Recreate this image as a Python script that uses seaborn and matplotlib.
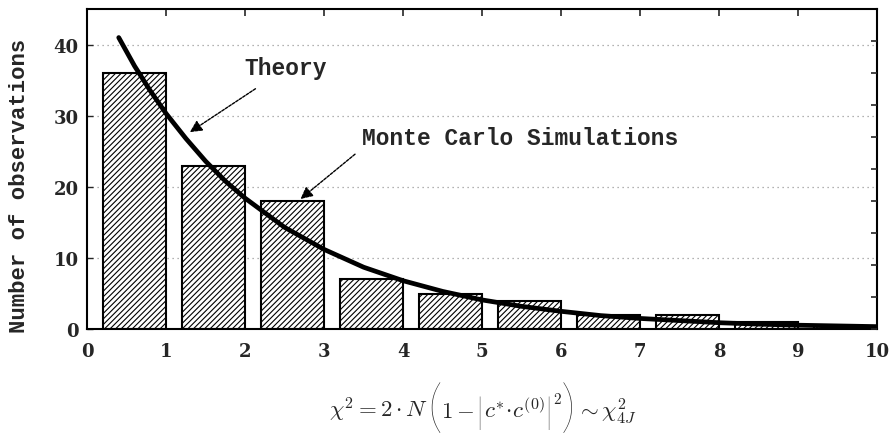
import numpy as np
import pandas as pd
import matplotlib
matplotlib.use('Agg')
import matplotlib.pyplot as plt
import seaborn as sns

# Monte Carlo histogram: bins [i, i+1), bar drawn over [i+0.2, i+1.0]
bin_start = [0, 1, 2, 3, 4, 5, 6, 7, 8, 9]
mc_counts = [36, 23, 18, 7, 5, 4, 2, 2, 1, 0.5]

# theory curve
theory_x = [0.4, 0.6, 0.8, 1.0, 1.25, 1.5, 1.75, 2.0, 2.5, 3.0, 3.5, 4.0,
            4.5, 5.0, 5.5, 6.0, 6.5, 7.0, 7.5, 8.0, 8.5, 9.0, 9.5, 10.0]
theory_y = [41, 37, 33.5, 30.3, 26.8, 23.6, 20.8, 18.4, 14.3, 11.2, 8.7, 6.8,
            5.3, 4.1, 3.2, 2.5, 1.9, 1.5, 1.2, 0.9, 0.7, 0.55, 0.45, 0.35]

x_ticks = [0, 1, 2, 3, 4, 5, 6, 7, 8, 9, 10]
y_ticks = [0, 10, 20, 30, 40]

sns.set_style('white')
plt.rcParams['hatch.linewidth'] = 0.8
plt.rcParams['mathtext.fontset'] = 'cm'

W, H = 889, 439
fig = plt.figure(figsize=(W / 100, H / 100), dpi=100)
ax = fig.add_axes([0.098, 0.248, 0.889, 0.729])

df_mc = pd.DataFrame({'center': [b + 0.6 for b in bin_start], 'count': mc_counts})
sns.barplot(data=df_mc, x='center', y='count', native_scale=True, width=0.8,
            color='white', edgecolor='black', linewidth=1.5, ax=ax,
            saturation=1)
for p in ax.patches:
    p.set_hatch('//////')
    p.set_facecolor('white')

df_th = pd.DataFrame({'x': theory_x, 'y': theory_y})
sns.lineplot(data=df_th, x='x', y='y', color='black', linewidth=3.4, ax=ax)

ax.set_xlim(0, 10)
ax.set_ylim(0, 45)
ax.set_xticks(x_ticks)
ax.set_yticks(y_ticks)
ax.set_xlabel('')
ax.set_ylabel('Number of observations', family='Liberation Mono',
              fontweight='bold', fontsize=16)
ax.yaxis.set_label_coords(-0.072, 0.45)
ax.yaxis.grid(True, linestyle=(0, (1, 3)), color='#999999', linewidth=0.9)
ax.set_axisbelow(True)
for s in ax.spines.values():
    s.set_color('black')
    s.set_linewidth(1.5)

ax.tick_params(axis='x', which='both', direction='in', length=5, width=1.2,
               top=True, bottom=False, pad=9, labelsize=13)
ax.tick_params(axis='y', direction='in', length=4, width=1.0, left=True,
               labelsize=13, pad=6)
for lab in ax.get_xticklabels() + ax.get_yticklabels():
    lab.set_fontfamily('DejaVu Serif')
    lab.set_fontweight('bold')

# right side tick marks
ax2 = ax.twinx()
ax2.set_ylim(0, 45)
ax2.set_yticks(np.arange(0, 45, 4.5))
ax2.tick_params(axis='y', direction='in', length=4, width=1.2, labelright=False)
for s in ax2.spines.values():
    s.set_visible(False)

arrow = dict(arrowstyle='-|>', color='black', lw=1.0, linestyle=(0, (2, 1)),
             mutation_scale=18, shrinkA=0, shrinkB=0)
ax.text(2.51, 36.8, 'Theory', family='Liberation Mono', fontweight='bold',
        fontsize=16.5, ha='center', va='center')
ax.annotate('', xy=(1.30, 27.7), xytext=(2.13, 33.8), arrowprops=arrow)
ax.text(5.48, 27.0, 'Monte Carlo Simulations', family='Liberation Mono',
        fontweight='bold', fontsize=16.5, ha='center', va='center')
ax.annotate('', xy=(2.70, 18.3), xytext=(3.39, 24.6), arrowprops=arrow)

# formula below the axis, built from pieces so the brackets can be tall
# (text, size, baseline shift in px (+ = up), gap after, extra props)
big = dict(family='Lato', fontweight='light')
pieces = [
    (r'$\chi^{2} = 2\cdot N$', 16.5, 0, -1, {}),
    ('(', 42, -8, -1, big),
    (r'$1-$', 16.5, 0, 1, {}),
    ('|', 26, -5, 0, big),
    (r'$c^{\ast}\!\cdot\! c^{(0)}$', 16.5, 0, 0, {}),
    ('|', 26, -5, 0, big),
    (r'$2$', 11, 14, -1, {}),
    (')', 42, -8, 1, big),
    (r'$\sim\chi^{2}_{4J}$', 16.5, 0, 0, {}),
]
baseline = 418
center_x = 483
renderer = fig.canvas.get_renderer()
texts, widths, gaps = [], [], []
for s, size, dy, g, kw in pieces:
    t = fig.text(0, (H - baseline + dy) / H, s, fontsize=size, ha='left',
                 va='baseline', **kw)
    bb = t.get_window_extent(renderer)
    texts.append(t)
    widths.append(bb.width)
    gaps.append(g)
total = sum(widths) + sum(gaps[:-1])
x = center_x - total / 2
for t, w, g in zip(texts, widths, gaps):
    t.set_x(x / W)
    x += w + g

fig.savefig('out.png', dpi=100, facecolor='white')
